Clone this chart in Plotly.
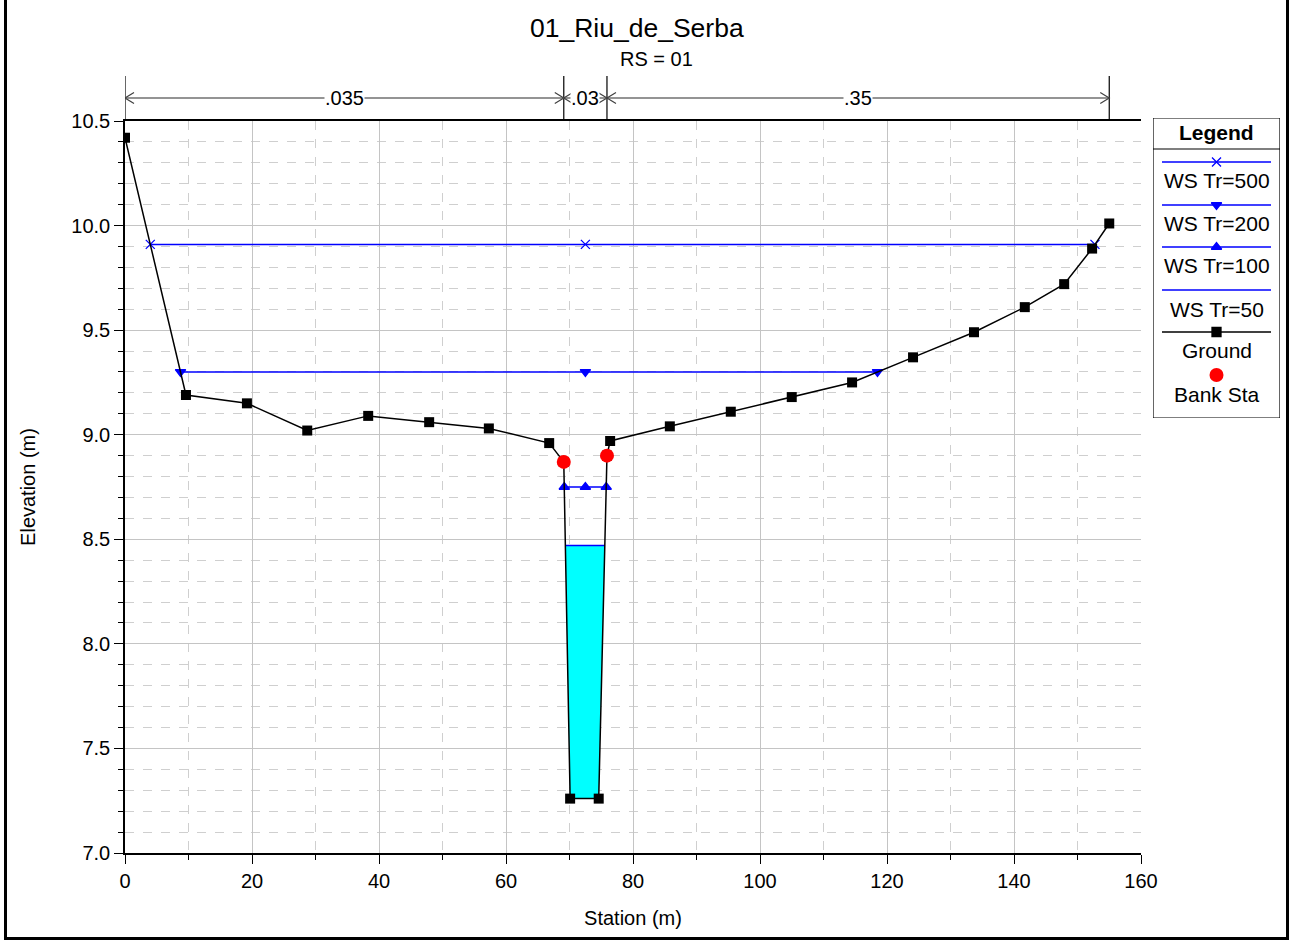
import numpy as np
import plotly.graph_objects as go

# ---------------- data ----------------
title_text = "01_Riu_de_Serba"
subtitle_text = "RS = 01"

station = [0.0, 9.6, 19.2, 28.7, 38.3, 47.9, 57.3, 66.8, 69.1, 70.1, 74.6, 75.9,
           76.4, 85.8, 95.4, 105.0, 114.5, 124.1, 133.7, 141.7, 147.9, 152.3, 155.0]
elevation = [10.42, 9.19, 9.15, 9.02, 9.09, 9.06, 9.03, 8.96, 8.87, 7.26, 7.26, 8.90,
             8.97, 9.04, 9.11, 9.18, 9.25, 9.37, 9.49, 9.61, 9.72, 9.89, 10.01]

bank_station = [69.1, 75.9]
bank_elevation = [8.87, 8.90]

ws_names = ["WS Tr=500", "WS Tr=200", "WS Tr=100", "WS Tr=50"]
ws_elev = [9.91, 9.30, 8.75, 8.47]
ws_symbols = ["x-thin-open", "triangle-down", "triangle-up", None]

n_stations = [0.0, 69.1, 75.9, 155.0]
n_values = [".035", ".03", ".35"]

x_ticks = [0, 20, 40, 60, 80, 100, 120, 140, 160]
y_ticks = [7.0, 7.5, 8.0, 8.5, 9.0, 9.5, 10.0, 10.5]

legend_title = "Legend"
legend_labels = ["WS Tr=500", "WS Tr=200", "WS Tr=100", "WS Tr=50", "Ground", "Bank Sta"]

# ---------------- geometry helpers ----------------
FIG_W, FIG_H = 1292, 944
M_L, M_R, M_T, M_B = 125, 7, 110, 91
PW = FIG_W - M_L - M_R
PH = FIG_H - M_T - M_B
BOTTOM = FIG_H - M_B


def px_x(p):
    return (p - M_L) / PW


def px_y(p):
    return (BOTTOM - p) / PH


FONT = "Liberation Sans, Arial, sans-serif"
BLUE = "#0000FF"


def ws_extent(ws):
    st = np.array(station)
    el = np.array(elevation)
    i0 = int(np.argmin(el))
    i = i0
    while i > 0 and el[i - 1] < ws:
        i -= 1
    xl = st[i - 1] + (el[i - 1] - ws) / (el[i - 1] - el[i]) * (st[i] - st[i - 1])
    j = i0
    while j < len(st) - 1 and el[j + 1] < ws:
        j += 1
    xr = st[j + 1] - (el[j + 1] - ws) / (el[j + 1] - el[j]) * (st[j + 1] - st[j])
    return xl, xr, i, j


center = (bank_station[0] + bank_station[1]) / 2

fig = go.Figure()

# water fill for the lowest profile
lowest = int(np.argmin(ws_elev))
xl, xr, i, j = ws_extent(ws_elev[lowest])
fx = [xl] + station[i:j + 1] + [xr]
fy = [ws_elev[lowest]] + elevation[i:j + 1] + [ws_elev[lowest]]
fig.add_trace(go.Scatter(x=fx, y=fy, fill="toself", fillcolor="#00FFFF",
                         mode="lines", line=dict(width=0, color="#00FFFF"),
                         showlegend=False, hoverinfo="skip", name="water"))

# water surfaces
for name, ws, sym in zip(ws_names, ws_elev, ws_symbols):
    xl, xr, _, _ = ws_extent(ws)
    if sym is None:
        fig.add_trace(go.Scatter(x=[xl, xr], y=[ws, ws], mode="lines",
                                 line=dict(color=BLUE, width=1.5),
                                 name=name, showlegend=False))
    else:
        fig.add_trace(go.Scatter(x=[xl, center, xr], y=[ws, ws, ws], mode="lines+markers",
                                 line=dict(color=BLUE, width=1.5),
                                 marker=dict(symbol=sym, size=9, color=BLUE,
                                             line=dict(color=BLUE, width=1.3)),
                                 name=name, showlegend=False))

# ground
fig.add_trace(go.Scatter(x=station, y=elevation, mode="lines+markers",
                         line=dict(color="black", width=1.5),
                         marker=dict(symbol="square", size=10, color="black"),
                         name="Ground", showlegend=False))

# bank stations
fig.add_trace(go.Scatter(x=bank_station, y=bank_elevation, mode="markers",
                         marker=dict(symbol="circle", size=14, color="#FF0000"),
                         name="Bank Sta", showlegend=False))

shapes = []
annotations = []

# ---------------- Manning's n bar ----------------
n_top = px_y(76)
n_bot = px_y(121)
n_mid = px_y(98)
for s in n_stations:
    shapes.append(dict(type="line", xref="x", yref="paper", x0=s, x1=s, y0=n_bot, y1=n_top,
                       line=dict(color="black", width=1.2)))
ch_dx = 9 / 6.35
ch_dy = 5.5 / PH
for k, lab in enumerate(n_values):
    a, b = n_stations[k], n_stations[k + 1]
    shapes.append(dict(type="line", xref="x", yref="paper", x0=a, x1=b, y0=n_mid, y1=n_mid,
                       line=dict(color="#707070", width=1.5)))
    shapes.append(dict(type="path", xref="x", yref="paper",
                       path=f"M {a + ch_dx},{n_mid + ch_dy} L {a},{n_mid} L {a + ch_dx},{n_mid - ch_dy}",
                       line=dict(color="#404040", width=1.2)))
    shapes.append(dict(type="path", xref="x", yref="paper",
                       path=f"M {b - ch_dx},{n_mid + ch_dy} L {b},{n_mid} L {b - ch_dx},{n_mid - ch_dy}",
                       line=dict(color="#404040", width=1.2)))
    annotations.append(dict(x=(a + b) / 2, y=n_mid, xref="x", yref="paper", text=lab,
                            showarrow=False, bgcolor="white", borderpad=0,
                            font=dict(family=FONT, size=20, color="black"),
                            xanchor="center", yanchor="middle"))

# ---------------- titles ----------------
annotations.append(dict(x=px_x(637), y=px_y(28), xref="paper", yref="paper", text=title_text,
                        showarrow=False, font=dict(family=FONT, size=26.5, color="black"),
                        xanchor="center", yanchor="middle"))
annotations.append(dict(x=px_x(656), y=px_y(59), xref="paper", yref="paper", text=subtitle_text,
                        showarrow=False, font=dict(family=FONT, size=20, color="black"),
                        xanchor="center", yanchor="middle"))

# ---------------- outer border ----------------
bx0, bx1, by_bot, by_top = px_x(5.5), px_x(1287.5), px_y(938.5), px_y(-10)
shapes.append(dict(type="path", xref="paper", yref="paper",
                   path=f"M {bx0},{by_top} L {bx0},{by_bot} L {bx1},{by_bot} L {bx1},{by_top}",
                   line=dict(color="black", width=3)))

# ---------------- manual legend (axes x2/y2 in pixel units) ----------------
LX0, LX1, LY0, LY1 = 1153, 1280, 118, 418
shapes.append(dict(type="rect", xref="x2", yref="y2", x0=LX0, x1=LX1, y0=LY0, y1=LY1,
                   line=dict(color="black", width=1.2), fillcolor="rgba(0,0,0,0)"))
shapes.append(dict(type="line", xref="x2", yref="y2", x0=LX0, x1=LX1, y0=149, y1=149,
                   line=dict(color="black", width=1.2)))
lcx = (1162 + 1271) / 2
annotations.append(dict(x=lcx, y=132.5, xref="x2", yref="y2", text="<b>" + legend_title + "</b>",
                        showarrow=False, font=dict(family=FONT, size=21, color="black"),
                        xanchor="center", yanchor="middle"))
line_y = [162, 205, 247, 290, 332]
text_y = [181, 224, 265, 309, 350, 394]
leg_colors = [BLUE, BLUE, BLUE, BLUE, "black"]
leg_symbols = ws_symbols + ["square"]
for k in range(5):
    shapes.append(dict(type="line", xref="x2", yref="y2", x0=1162, x1=1271,
                       y0=line_y[k], y1=line_y[k], line=dict(color=leg_colors[k], width=1.5)))
    if leg_symbols[k] is not None:
        fig.add_trace(go.Scatter(x=[lcx], y=[line_y[k]], xaxis="x2", yaxis="y2", mode="markers",
                                 marker=dict(symbol=leg_symbols[k], size=9, color=leg_colors[k],
                                             line=dict(color=leg_colors[k], width=1.3)),
                                 showlegend=False, hoverinfo="skip", name=legend_labels[k]))
fig.add_trace(go.Scatter(x=[lcx], y=[375], xaxis="x2", yaxis="y2", mode="markers",
                         marker=dict(symbol="circle", size=14, color="#FF0000"),
                         showlegend=False, hoverinfo="skip", name="Bank Sta"))
for k, lab in enumerate(legend_labels):
    annotations.append(dict(x=lcx, y=text_y[k], xref="x2", yref="y2", text=lab,
                            showarrow=False, font=dict(family=FONT, size=21, color="black"),
                            xanchor="center", yanchor="middle"))

fig.update_layout(
    width=FIG_W, height=FIG_H, autosize=False,
    margin=dict(l=M_L, r=M_R, t=M_T, b=M_B, pad=0, autoexpand=False),
    paper_bgcolor="white", plot_bgcolor="white",
    font=dict(family=FONT, size=20, color="black"),
    showlegend=False,
    xaxis=dict(domain=[0, px_x(1141)], range=[0, 160], tickvals=x_ticks, automargin=False,
               showline=True, linecolor="black", linewidth=1.5, mirror=True,
               ticks="outside", ticklen=9, tickcolor="black", tickwidth=1,
               showgrid=True, gridcolor="#c4c4c4", gridwidth=1.3, zeroline=False,
               minor=dict(dtick=10, showgrid=True, gridcolor="#cfcfcf", griddash="dash",
                          gridwidth=1, ticks="outside", ticklen=5, tickcolor="black"),
               title=dict(text="Station (m)", font=dict(size=20), standoff=20),
               tickfont=dict(size=20), anchor="y"),
    yaxis=dict(domain=[0, px_y(121)], range=[7.0, 10.5], tickvals=y_ticks, tickformat=".1f",
               automargin=False,
               showline=True, linecolor="black", linewidth=1.5,
               ticks="outside", ticklen=9, tickcolor="black", tickwidth=1,
               showgrid=True, gridcolor="#c4c4c4", gridwidth=1.3, zeroline=False,
               minor=dict(dtick=0.1, showgrid=True, gridcolor="#cfcfcf", griddash="dash",
                          gridwidth=1, ticks="outside", ticklen=5, tickcolor="black"),
               title=dict(text="Elevation (m)", font=dict(size=20), standoff=30),
               tickfont=dict(size=20), anchor="x"),
    xaxis2=dict(domain=[px_x(LX0), px_x(LX1)], range=[LX0, LX1], visible=False,
                automargin=False, fixedrange=True, anchor="y2"),
    yaxis2=dict(domain=[px_y(LY1), px_y(LY0)], range=[LY1, LY0], visible=False,
                automargin=False, fixedrange=True, anchor="x2"),
    shapes=shapes,
    annotations=annotations,
)

fig.write_html("out.html",
               config={"displayModeBar": False, "responsive": False},
               post_script="document.body.style.margin='0';document.body.style.overflow='hidden';")
